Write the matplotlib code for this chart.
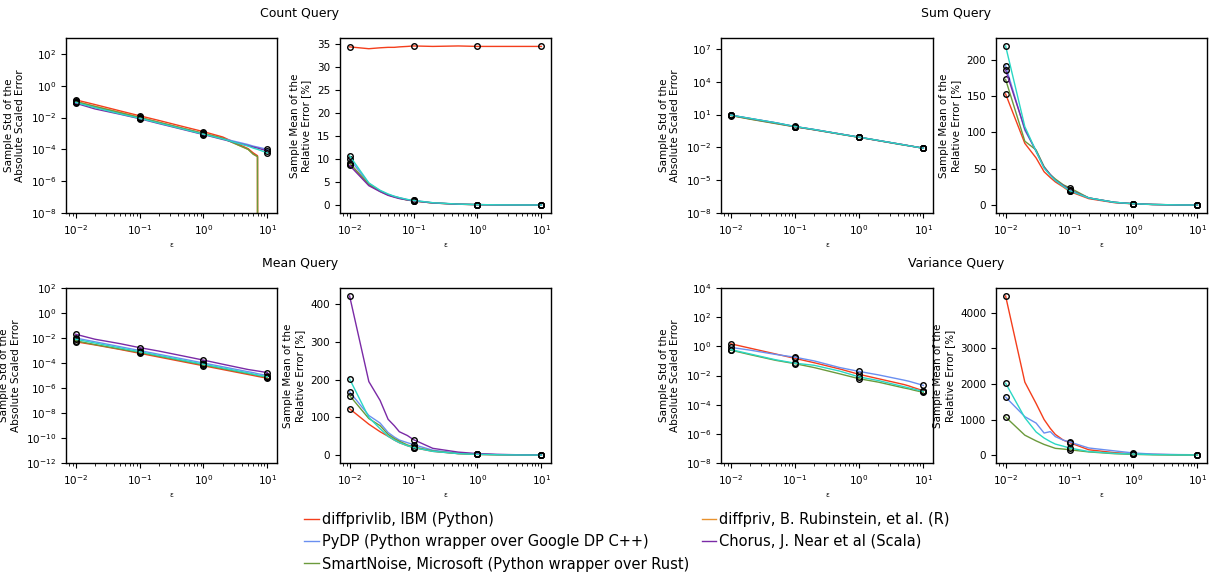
import matplotlib
matplotlib.use('Agg')
import math
import matplotlib.pyplot as plt
from matplotlib.lines import Line2D
from matplotlib.ticker import NullLocator, MultipleLocator


# epsilon grids
EPS_STD = [0.01, 0.02, 0.05, 0.1, 0.2, 0.5, 1, 2, 5, 6, 7, 10]
EPS_REL = [0.01, 0.02, 0.03, 0.04, 0.05, 0.06, 0.08, 0.1, 0.2, 0.5, 1, 2, 5, 10]

LIBS = ['diffprivlib, IBM (Python)',
        'PyDP (Python wrapper over Google DP C++)',
        'SmartNoise, Microsoft (Python wrapper over Rust)',
        'diffpriv, B. Rubinstein, et al. (R)',
        'Chorus, J. Near et al (Scala)',
        None]
COLORS = ['#f43e1c', '#6a8ff0', '#6b9a3c', '#e8922e', '#7a2aa6', '#2ad7c4']

# ---- Count query ----
count_std = [
    [0.13, 0.066, 0.026, 0.013, 0.0066, 0.0026, 0.0013, 0.0006, 0.00011, 0.00006, 0.00004, 0],
    [0.095, 0.045, 0.018, 0.0095, 0.0048, 0.0019, 0.00095, 0.00048, 0.0002, 0.00016, 0.00014, 0.0001],
    [0.1, 0.05, 0.02, 0.01, 0.005, 0.002, 0.001, 0.0005, 0.0001, 0.00005, 0.000035, 0],
    [0.105, 0.051, 0.021, 0.0105, 0.0051, 0.002, 0.001, 0.0005, 0.0001, 0.00005, 0.000035, 0],
    [0.08, 0.035, 0.016, 0.0085, 0.0042, 0.0017, 0.00085, 0.00042, 0.00017, 0.00014, 0.00012, 0.00008],
    [0.09, 0.042, 0.017, 0.009, 0.0045, 0.0018, 0.0009, 0.00045, 0.00016, 0.00012, 0.0001, 0.00006],
]
count_rel = [
    [34.3, 33.9, 34.1, 34.2, 34.2, 34.3, 34.4, 34.5, 34.4, 34.5, 34.4, 34.4, 34.4, 34.4],
    [10.0, 4.7, 3.1, 2.3, 1.9, 1.6, 1.2, 1.0, 0.5, 0.2, 0.1, 0.05, 0.02, 0.0],
    [9.1, 4.5, 3.0, 2.2, 1.8, 1.5, 1.1, 0.9, 0.45, 0.18, 0.09, 0.05, 0.02, 0.01],
    [9.0, 4.4, 3.0, 2.2, 1.8, 1.5, 1.1, 0.9, 0.45, 0.18, 0.09, 0.05, 0.02, 0.01],
    [8.6, 4.2, 2.9, 2.1, 1.7, 1.4, 1.1, 0.9, 0.45, 0.18, 0.09, 0.05, 0.02, 0.01],
    [10.7, 4.8, 3.2, 2.4, 1.9, 1.6, 1.2, 1.0, 0.5, 0.2, 0.1, 0.05, 0.02, 0.01],
]

# ---- Sum query (no diffpriv) ----
sum_std = [
    [8.5, 4.0, 1.6, 0.78, 0.41, 0.17, 0.084, 0.042, 0.017, 0.014, 0.012, 0.0083],
    [8.8, 4.4, 1.8, 0.8, 0.43, 0.17, 0.086, 0.043, 0.017, 0.014, 0.012, 0.0085],
    [8.2, 3.8, 1.5, 0.76, 0.40, 0.16, 0.083, 0.041, 0.016, 0.014, 0.012, 0.0082],
    None,
    [8.9, 4.4, 1.75, 0.8, 0.42, 0.17, 0.085, 0.042, 0.017, 0.014, 0.012, 0.0084],
    [9.0, 4.5, 1.8, 0.82, 0.43, 0.17, 0.086, 0.043, 0.017, 0.014, 0.012, 0.0084],
]
sum_rel = [
    [153, 85, 65, 46, 38, 32, 25, 19, 9, 3.5, 1.8, 0.9, 0.4, 0.2],
    [192, 103, 75, 52, 42, 35, 27, 21, 10, 4, 2, 1, 0.4, 0.2],
    [173, 88, 76, 53, 42, 36, 28, 24, 10, 4, 2, 1, 0.4, 0.2],
    None,
    [186, 105, 74, 52, 42, 34, 27, 21, 10, 4, 2, 1, 0.4, 0.2],
    [219, 108, 74, 51, 41, 34, 26, 20, 10, 4, 2, 1, 0.4, 0.2],
]

# ---- Mean query (no diffpriv) ----
mean_std = [
    [0.005, 0.0028, 0.0012, 0.0006, 0.0003, 0.00012, 0.00006, 0.00003, 0.000012, 0.00001, 0.0000085, 0.000006],
    [0.01, 0.005, 0.002, 0.001, 0.0005, 0.0002, 0.0001, 0.00005, 0.00002, 0.000017, 0.000014, 0.00001],
    [0.006, 0.003, 0.0013, 0.0007, 0.00035, 0.00014, 0.00007, 0.000035, 0.000014, 0.000012, 0.00001, 0.000007],
    None,
    [0.02, 0.008, 0.0035, 0.0017, 0.0009, 0.00035, 0.00017, 0.00008, 0.00003, 0.000026, 0.000023, 0.000017],
    [0.008, 0.004, 0.0016, 0.0008, 0.0004, 0.00016, 0.00008, 0.00004, 0.000016, 0.000013, 0.000011, 0.000008],
]
mean_rel = [
    [123, 82, 62, 50, 40, 33, 25, 20, 10, 4, 2, 1, 0.4, 0.2],
    [168, 105, 85, 60, 48, 40, 33, 28, 13, 5, 3, 1.5, 0.6, 0.3],
    [158, 97, 78, 55, 44, 37, 27, 22, 11, 4, 2, 1, 0.4, 0.2],
    None,
    [422, 195, 145, 95, 78, 62, 52, 41, 18, 8, 4, 2, 0.8, 0.5],
    [202, 100, 70, 50, 40, 33, 25, 20, 10, 4, 2, 1, 0.4, 0.2],
]

# ---- Variance query (no diffpriv, no Chorus) ----
var_std = [
    [1.5, 0.75, 0.3, 0.15, 0.075, 0.028, 0.012, 0.006, 0.0024, 0.0019, 0.0015, 0.0009],
    [0.85, 0.55, 0.28, 0.18, 0.1, 0.035, 0.019, 0.011, 0.0048, 0.004, 0.0033, 0.0021],
    [0.55, 0.27, 0.11, 0.065, 0.035, 0.013, 0.006, 0.0035, 0.0014, 0.0012, 0.001, 0.0007],
    None,
    None,
    [0.6, 0.3, 0.12, 0.07, 0.05, 0.02, 0.008, 0.0045, 0.0017, 0.0014, 0.0012, 0.0008],
]
var_rel = [
    [4470, 2050, 1450, 1000, 750, 580, 420, 350, 150, 70, 40, 20, 8, 5],
    [1630, 1080, 900, 620, 660, 520, 420, 370, 200, 120, 60, 30, 15, 10],
    [1070, 560, 400, 300, 240, 190, 170, 150, 90, 40, 20, 10, 4, 2],
    None,
    None,
    [2020, 1050, 650, 480, 380, 310, 250, 200, 100, 50, 30, 15, 6, 3],
]

DECADES = [0.01, 0.1, 1, 10]

STD_LABEL = 'Sample Std of the\nAbsolute Scaled Error'
REL_LABEL = 'Sample Mean of the\nRelative Error [%]'

W, H = 1211, 577


def axes_at(fig, x0, y0, x1, y1):
    # pixel box -> figure fraction
    return fig.add_axes([x0 / W, 1 - y1 / H, (x1 - x0) / W, (y1 - y0) / H])


def draw(ax, eps, series):
    marks = [i for i, e in enumerate(eps) if e in DECADES]
    for k, (data, color) in enumerate(zip(series, COLORS)):
        if data is None:
            continue
        # diffpriv sits under SmartNoise
        z = 1.9 if k == 3 else 2
        ax.plot(eps, data, color=color, lw=1.0, zorder=z,
                marker='o', markevery=marks, ms=4, mfc='none',
                mec='black', mew=1.0)
    ax.set_xscale('log')
    ax.set_xlabel('ε', fontsize=5)
    ax.tick_params(labelsize=7.5)
    for s in ax.spines.values():
        s.set_linewidth(1.0)


def std_panel(ax, series, ymin, ymax, step):
    draw(ax, EPS_STD, series)
    ax.set_yscale('log')
    ax.set_ylim(ymin, ymax)
    exps = range(round(math.log10(ymin)), round(math.log10(ymax)) + 1, step)
    ax.set_yticks([10.0 ** e for e in exps])
    ax.yaxis.set_minor_locator(NullLocator())
    ax.set_ylabel(STD_LABEL, fontsize=7.5)


def rel_panel(ax, series, step):
    draw(ax, EPS_REL, series)
    ax.yaxis.set_major_locator(MultipleLocator(step))
    ax.set_ylabel(REL_LABEL, fontsize=7.5)


fig = plt.figure(figsize=(W / 100, H / 100), dpi=100)

cols = [(66, 277), (340, 551), (721, 933), (996, 1207)]
rows = [(38, 213), (288, 463)]

a = axes_at(fig, cols[0][0], rows[0][0], cols[0][1], rows[0][1])
std_panel(a, count_std, 1e-8, 1e3, 2)
b = axes_at(fig, cols[1][0], rows[0][0], cols[1][1], rows[0][1])
rel_panel(b, count_rel, 5)
c = axes_at(fig, cols[2][0], rows[0][0], cols[2][1], rows[0][1])
std_panel(c, sum_std, 1e-8, 1e8, 3)
d = axes_at(fig, cols[3][0], rows[0][0], cols[3][1], rows[0][1])
rel_panel(d, sum_rel, 50)
e = axes_at(fig, cols[0][0], rows[1][0], cols[0][1], rows[1][1])
std_panel(e, mean_std, 1e-12, 1e2, 2)
f = axes_at(fig, cols[1][0], rows[1][0], cols[1][1], rows[1][1])
rel_panel(f, mean_rel, 100)
g = axes_at(fig, cols[2][0], rows[1][0], cols[2][1], rows[1][1])
std_panel(g, var_std, 1e-8, 1e4, 2)
h = axes_at(fig, cols[3][0], rows[1][0], cols[3][1], rows[1][1])
rel_panel(h, var_rel, 1000)

fig.text(300 / W, 1 - 14 / H, 'Count Query', ha='center', va='center', fontsize=9)
fig.text(956 / W, 1 - 14 / H, 'Sum Query', ha='center', va='center', fontsize=9)
fig.text(300 / W, 1 - 264 / H, 'Mean Query', ha='center', va='center', fontsize=9)
fig.text(956 / W, 1 - 264 / H, 'Variance Query', ha='center', va='center', fontsize=9)

handles = [Line2D([], [], color=c_, lw=1.0) for c_, l_ in zip(COLORS, LIBS) if l_]
labels = [l_ for l_ in LIBS if l_]
fig.legend(handles, labels, loc='upper left', bbox_to_anchor=(304 / W, 1 - 512 / H),
           ncol=2, frameon=False, fontsize=10.5, handlelength=1.0,
           handletextpad=0.2, columnspacing=0.9, labelspacing=0.5,
           borderaxespad=0, borderpad=0)

fig.savefig('out.png', dpi=100)
